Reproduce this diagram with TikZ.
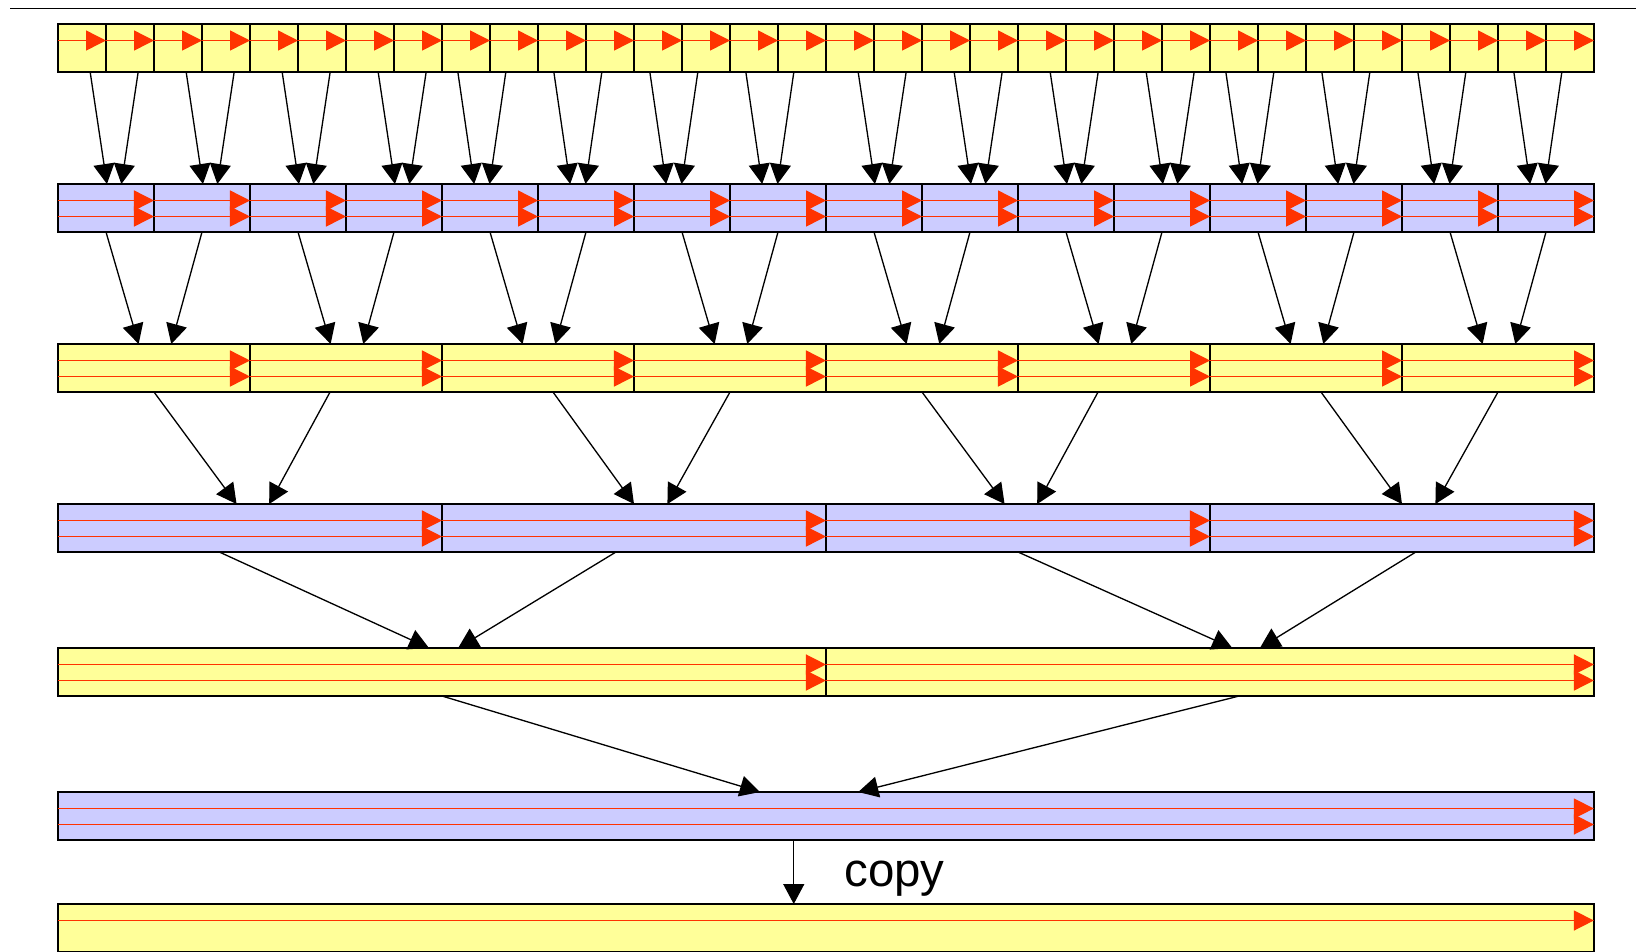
\documentclass[tikz,border=0pt]{standalone}
\usepackage{fontspec}
\setmainfont{Liberation Sans}
\usetikzlibrary{arrows.meta, calc, positioning}

\definecolor{cellyellow}{HTML}{FFFF99}
\definecolor{cellblue}{HTML}{CCCCFF}
\definecolor{flowred}{HTML}{FF3300}

\begin{document}
\begin{tikzpicture}[x=0.02cm, y=-0.02cm,
    cell/.style={draw, line width=0.8pt, outer sep=0pt, inner sep=0pt, minimum height=0.96cm},
    flow/.style={flowred, line width=0.85pt, -{Triangle[length=0.4cm, width=0.4cm]}},
    link/.style={line width=0.75pt, -{Triangle[length=0.4cm, width=0.42cm]}}]

        \useasboundingbox (0, 0) rectangle (1636, 951);
        \draw[line width=0.8pt] (10, 8.5) -- (1636, 8.5);

        % the blocks, level by level
        \foreach \i in {1,...,32}
        \node[cell, fill=cellyellow, minimum width=0.96cm] (a\i) at (34+48*\i, 48) {};
        \foreach \i in {1,...,16}
        \node[cell, fill=cellblue, minimum width=1.92cm] (b\i) at (10+96*\i, 208) {};
        \foreach \i in {1,...,8}
        \node[cell, fill=cellyellow, minimum width=3.84cm] (c\i) at (-38+192*\i, 368) {};
        \foreach \i in {1,...,4}
        \node[cell, fill=cellblue, minimum width=7.68cm] (d\i) at (-134+384*\i, 528) {};
        \foreach \i in {1,2}
        \node[cell, fill=cellyellow, minimum width=15.36cm] (e\i) at (-326+768*\i, 672) {};
        \node[cell, fill=cellblue, minimum width=30.72cm] (f) at (826, 816) {};
        \node[cell, fill=cellyellow, minimum width=30.72cm] (g) at (826, 928) {};

        % red runs inside the blocks
        \foreach \i in {1,...,32}
        \draw[flow] ([yshift=0.15cm]a\i.west) -- ([yshift=0.15cm]a\i.east);
        \foreach \n in {b1,b2,b3,b4,b5,b6,b7,b8,b9,b10,b11,b12,b13,b14,b15,b16,
                        c1,c2,c3,c4,c5,c6,c7,c8,d1,d2,d3,d4,e1,e2,f} {
            \draw[flow] ([yshift=0.15cm]\n.west) -- ([yshift=0.15cm]\n.east);
            \draw[flow] ([yshift=-0.17cm]\n.west) -- ([yshift=-0.17cm]\n.east);
        }
        \draw[flow] ([yshift=0.15cm]g.west) -- ([yshift=0.15cm]g.east);

        % level 1 -> level 2
        \foreach \k in {1,2,3,4,9,10,11,12} {
            \pgfmathtruncatemacro\ia{2*\k-1}
            \pgfmathtruncatemacro\ib{2*\k}
            \draw[link] ($(a\ia.south west)!.67!(a\ia.south east)$) -- ($(b\k.north west)!.51!(b\k.north east)$);
            \draw[link] ($(a\ib.south west)!.67!(a\ib.south east)$) -- ($(b\k.north west)!.66!(b\k.north east)$);
        }
        \foreach \k in {5,6,7,8,13,14,15,16} {
            \pgfmathtruncatemacro\ia{2*\k-1}
            \pgfmathtruncatemacro\ib{2*\k}
            \draw[link] ($(a\ia.south west)!.33!(a\ia.south east)$) -- ($(b\k.north west)!.335!(b\k.north east)$);
            \draw[link] ($(a\ib.south west)!.33!(a\ib.south east)$) -- ($(b\k.north west)!.495!(b\k.north east)$);
        }

        % level 2 -> level 3
        \foreach \k in {1,...,8} {
            \pgfmathtruncatemacro\ia{2*\k-1}
            \pgfmathtruncatemacro\ib{2*\k}
            \draw[link] (b\ia.south) -- ($(c\k.north west)!.42!(c\k.north east)$);
            \draw[link] (b\ib.south) -- ($(c\k.north west)!.59!(c\k.north east)$);
        }

        % level 3 -> level 4
        \foreach \k/\s/\t/\p/\q in {1/.5/.417/.465/.55, 2/.578/.5/.5/.587,
                                    3/.5/.417/.465/.55, 4/.578/.5/.5/.587} {
            \pgfmathtruncatemacro\ia{2*\k-1}
            \pgfmathtruncatemacro\ib{2*\k}
            \draw[link] ($(c\ia.south west)!\s!(c\ia.south east)$) -- ($(d\k.north west)!\p!(d\k.north east)$);
            \draw[link] ($(c\ib.south west)!\t!(c\ib.south east)$) -- ($(d\k.north west)!\q!(d\k.north east)$);
        }

        % level 4 -> level 5
        \foreach \k/\s/\t/\p/\q in {1/.42/.453/.483/.521, 2/.5/.536/.529/.565} {
            \pgfmathtruncatemacro\ia{2*\k-1}
            \pgfmathtruncatemacro\ib{2*\k}
            \draw[link] ($(d\ia.south west)!\s!(d\ia.south east)$) -- ($(e\k.north west)!\p!(e\k.north east)$);
            \draw[link] ($(d\ib.south west)!\t!(d\ib.south east)$) -- ($(e\k.north west)!\q!(e\k.north east)$);
        }

        % level 5 -> level 6
        \draw[link] (e1.south) -- ($(f.north west)!.457!(f.north east)$);
        \draw[link] ($(e2.south west)!.538!(e2.south east)$) -- ($(f.north west)!.521!(f.north east)$);

        % copy down
        \draw[link] ($(f.south west)!.479!(f.south east)$) -- ($(g.north west)!.479!(g.north east)$)
            node[pos=.6, right=1cm, inner sep=0pt, font=\fontsize{27}{32}\selectfont] (copytext) {copy};

    \end{tikzpicture}
\end{document}
